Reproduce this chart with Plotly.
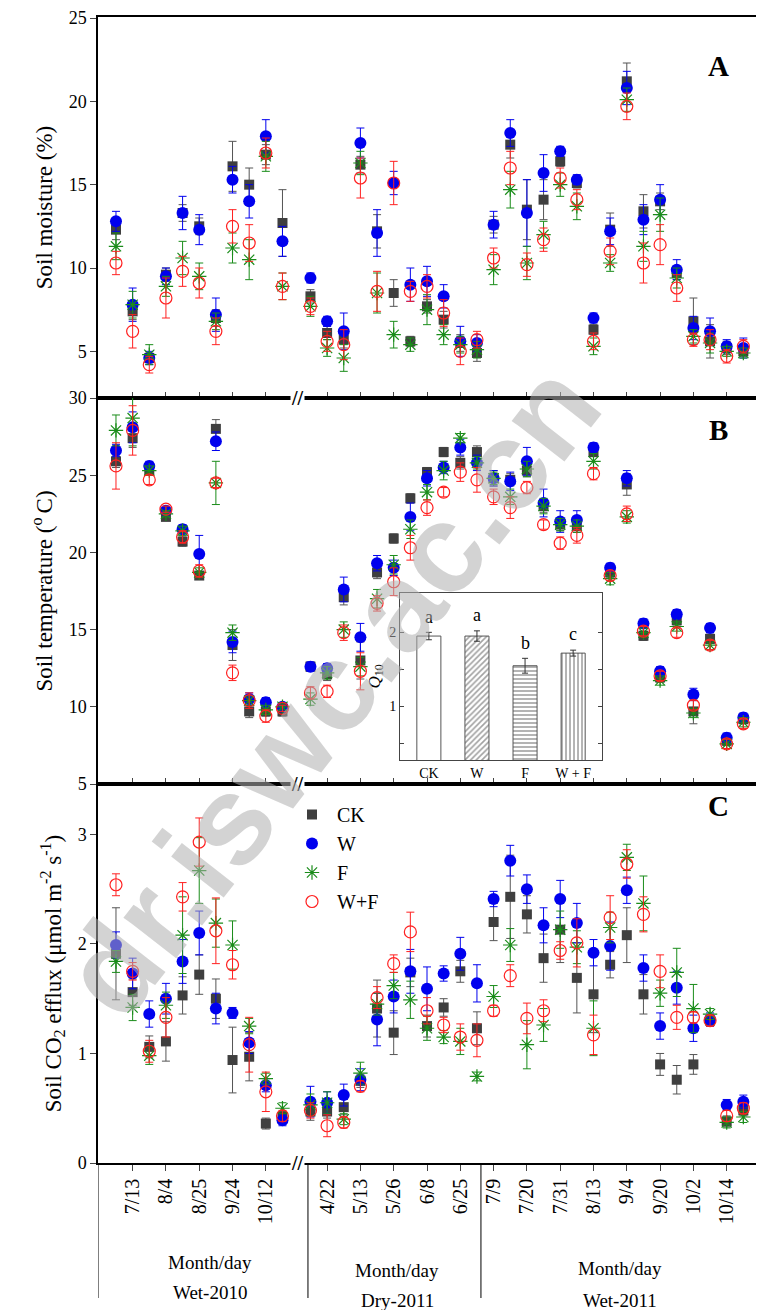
import plotly.graph_objects as go

# sampling dates (only every other one is labelled on the axis)
n_wet10, n_dry11, n_wet11 = 11, 11, 16
tick_idx = [1, 3, 5, 7, 9, 12, 14, 16, 18, 20, 22, 24, 26, 28, 30, 32, 34, 36]
tick_labels = ["7/13", "8/4", "8/25", "9/24", "10/12",
               "4/22", "5/13", "5/26", "6/8", "6/25",
               "7/9", "7/20", "7/31", "8/13", "9/4", "9/20", "10/2", "10/14"]

# x position of each sampling date (gap at the axis break)
xpos = ([i for i in range(n_wet10)] + [11.68 + i for i in range(n_dry11)]
        + [22.68 + i for i in range(n_wet11)])

# ---- soil moisture (%)
sm_ck = [12.3, 7.4, 4.6, 9.6, 13.3, 12.5, 7.0, 16.1, 15.0, 16.8, 12.7,
         8.3, 6.1, 5.7, 16.2, 12.2, 8.5, 5.6, 7.7, 6.9, 5.5, 4.9,
         12.6, 17.4, 13.5, 14.1, 16.4, 15.1, 6.3, 12.3, 21.2, 13.4, 14.0, 9.7, 6.8, 5.6, 5.2, 5.0]
sm_w = [12.8, 7.8, 4.6, 9.5, 13.3, 12.3, 7.2, 15.3, 14.0, 17.9, 11.6,
        9.4, 6.8, 6.2, 17.5, 12.1, 15.1, 9.0, 9.2, 8.3, 5.6, 5.5,
        12.6, 18.1, 13.3, 15.7, 17.0, 15.3, 7.0, 12.2, 20.8, 12.9, 14.1, 9.9, 6.4, 6.2, 5.3, 5.2]
sm_f = [11.3, 7.8, 4.8, 8.9, 10.6, 9.5, 6.8, 11.2, 10.5, 16.7, 8.9,
        7.7, 5.2, 4.6, 16.3, 8.5, 6.0, 5.4, 7.5, 6.0, 5.4, 5.1,
        9.9, 14.7, 10.3, 12.0, 15.0, 13.7, 5.3, 10.3, 20.1, 11.3, 13.2, 9.4, 5.9, 5.5, 5.0, 4.9]
sm_wf = [10.3, 6.2, 4.2, 8.2, 9.8, 9.1, 6.2, 12.5, 11.5, 16.9, 8.9,
         7.7, 5.6, 5.4, 15.4, 8.6, 15.1, 8.6, 8.9, 7.3, 5.0, 5.7,
         10.6, 16.0, 10.2, 11.7, 15.4, 14.1, 5.6, 11.0, 19.7, 10.3, 11.4, 8.8, 5.7, 5.7, 4.7, 5.3]
sm_ck_e = [0.6, 0.5, 0.3, 0.4, 0.5, 0.5, 0.5, 1.5, 1.0, 0.6, 2.0,
           0.4, 0.4, 0.5, 0.5, 1.0, 0.8, 0.3, 0.4, 0.5, 0.5, 0.5,
           0.5, 0.8, 1.8, 1.2, 0.3, 0.3, 0.3, 1.0, 1.1, 1.0, 0.5, 0.4, 1.4, 1.0, 0.4, 0.3]
sm_w_e = [0.6, 1.0, 0.4, 0.5, 1.0, 0.9, 1.0, 0.8, 1.0, 1.0, 0.9,
          0.3, 0.3, 1.1, 0.9, 1.4, 0.7, 1.0, 0.9, 0.7, 0.9, 0.5,
          0.8, 0.8, 2.0, 1.1, 0.3, 0.3, 0.3, 0.8, 1.0, 0.9, 0.9, 0.6, 0.7, 0.8, 0.4, 0.6]
sm_f_e = [0.8, 0.8, 0.6, 0.6, 1.0, 0.8, 0.5, 0.9, 1.2, 0.9, 0.8,
          0.6, 0.5, 0.8, 0.7, 1.2, 0.8, 0.4, 0.9, 0.6, 0.5, 0.5,
          0.9, 1.1, 1.0, 0.8, 0.7, 0.8, 0.5, 0.5, 0.7, 0.9, 1.0, 0.6, 0.4, 0.6, 0.3, 0.3]
sm_wf_e = [0.7, 1.0, 0.5, 1.2, 0.9, 0.9, 0.8, 1.0, 1.1, 0.9, 0.8,
           0.5, 0.6, 0.9, 1.2, 1.2, 1.3, 0.6, 0.7, 0.8, 0.8, 0.5,
           0.6, 1.0, 0.7, 0.7, 0.6, 0.6, 0.5, 0.8, 0.8, 1.2, 1.2, 0.8, 0.4, 0.6, 0.4, 0.4]

# ---- soil temperature (oC)
st_ck = [25.9, 27.4, 25.3, 22.3, 20.7, 18.5, 28.0, 14.0, 9.7, 9.7, 9.7,
         12.6, 12.1, 17.1, 13.0, 18.7, 20.9, 23.5, 25.2, 26.5, 25.8, 26.5,
         24.8, 24.7, 25.3, 23.0, 21.8, 21.7, 26.5, 18.7, 24.4, 14.6, 11.9, 15.6, 9.7, 14.4, 7.8, 9.2]
st_w = [26.6, 28.1, 25.6, 22.7, 21.5, 19.9, 27.2, 14.2, 10.5, 10.3, 10.0,
        12.6, 12.5, 17.6, 14.5, 19.3, 19.0, 22.3, 24.8, 25.5, 26.8, 25.8,
        24.8, 24.6, 25.9, 23.2, 22.0, 22.1, 26.8, 19.0, 24.8, 15.4, 12.3, 16.0, 10.8, 15.1, 8.0, 9.3]
st_f = [27.9, 28.7, 25.3, 22.5, 21.4, 18.7, 24.5, 14.8, 10.4, 9.8, 10.0,
        10.5, 12.2, 15.0, 12.6, 17.0, 19.2, 21.5, 23.9, 25.3, 27.4, 25.8,
        24.8, 23.6, 25.4, 23.0, 21.8, 21.7, 25.9, 18.3, 22.3, 14.8, 11.7, 15.2, 9.6, 14.0, 7.6, 9.0]
st_wf = [25.6, 27.9, 24.7, 22.8, 21.0, 18.8, 24.5, 12.2, 10.4, 9.4, 9.9,
         10.9, 11.0, 14.8, 12.3, 16.7, 18.1, 20.3, 22.9, 23.9, 25.2, 24.7,
         23.6, 22.9, 24.2, 21.8, 20.6, 21.1, 25.1, 18.5, 22.5, 14.9, 12.0, 14.8, 10.1, 14.0, 7.6, 8.9]
st_ck_e = [0.4, 0.6, 0.3, 0.2, 0.3, 0.2, 0.6, 1.0, 0.4, 0.3, 0.3,
           0.3, 0.4, 0.5, 1.2, 0.4, 0.3, 0.3, 0.3, 0.3, 0.4, 0.4,
           0.5, 0.4, 0.4, 0.4, 0.4, 0.4, 0.3, 0.3, 0.7, 0.3, 0.3, 0.3, 0.8, 0.3, 0.3, 0.3]
st_w_e = [0.4, 1.0, 0.3, 0.2, 0.3, 1.2, 0.6, 0.7, 0.4, 0.3, 0.2,
          0.3, 0.3, 0.8, 0.9, 0.5, 0.5, 0.9, 0.5, 0.4, 0.5, 0.5,
          0.5, 0.6, 0.9, 0.9, 0.7, 0.6, 0.3, 0.3, 0.5, 0.3, 0.3, 0.3, 0.4, 0.3, 0.3, 0.3]
st_f_e = [1.0, 1.8, 0.3, 0.2, 0.3, 0.3, 1.4, 0.5, 0.3, 0.3, 0.2,
          0.4, 0.4, 0.5, 0.6, 0.6, 0.6, 0.6, 0.5, 0.6, 0.3, 0.4,
          0.4, 0.5, 0.5, 0.5, 0.4, 0.4, 0.5, 0.4, 0.4, 0.3, 0.3, 0.3, 0.3, 0.3, 0.3, 0.3]
st_wf_e = [1.5, 1.6, 0.3, 0.2, 0.4, 0.4, 0.3, 0.5, 0.5, 0.4, 0.2,
           0.4, 0.4, 0.5, 1.2, 0.5, 0.9, 0.8, 0.5, 0.3, 0.6, 0.8,
           0.5, 0.7, 0.4, 0.3, 0.4, 0.5, 0.4, 0.3, 0.5, 0.3, 0.3, 0.3, 0.3, 0.3, 0.3, 0.3]

# ---- soil CO2 efflux
co2_ck = [1.91, 1.56, 1.06, 1.11, 1.53, 1.72, 1.50, 0.94, 0.97, 0.36, 0.42,
          0.47, 0.47, 0.51, 0.75, 1.41, 1.19, 1.74, 1.25, 1.42, 1.75, 1.23,
          2.20, 2.43, 2.27, 1.87, 2.13, 1.69, 1.54, 1.81, 2.08, 1.54, 0.90, 0.76, 0.90, 1.30, 0.38, 0.48]
co2_w = [1.99, 1.73, 1.36, 1.50, 1.84, 2.10, 1.41, 1.37, 1.10, 0.71, 0.39,
         0.56, 0.55, 0.62, 0.76, 1.31, 1.52, 1.75, 1.59, 1.73, 1.91, 1.64,
         2.41, 2.76, 2.50, 2.17, 2.41, 2.19, 1.92, 1.98, 2.49, 1.78, 1.25, 1.60, 1.23, 1.31, 0.53, 0.56]
co2_f = [1.84, 1.42, 0.98, 1.44, 2.08, 2.67, 2.19, 1.99, 1.25, 0.77, 0.50,
         0.53, 0.55, 0.40, 0.82, 1.45, 1.62, 1.49, 1.23, 1.15, 1.11, 0.79,
         1.52, 1.99, 1.08, 1.26, 2.13, 1.97, 1.23, 2.15, 2.79, 2.37, 1.55, 1.74, 1.41, 1.36, 0.37, 0.42]
co2_wf = [2.54, 1.75, 1.02, 1.33, 2.43, 2.93, 2.12, 1.81, 1.08, 0.65, 0.43,
          0.48, 0.34, 0.37, 0.70, 1.51, 1.82, 2.11, 1.39, 1.26, 1.15, 1.12,
          1.39, 1.71, 1.32, 1.39, 1.94, 2.01, 1.17, 2.24, 2.73, 2.27, 1.75, 1.33, 1.33, 1.30, 0.43, 0.50]
co2_ck_e = [0.42, 0.12, 0.10, 0.18, 0.17, 0.18, 0.18, 0.30, 0.22, 0.05, 0.05,
            0.08, 0.06, 0.07, 0.06, 0.26, 0.20, 0.13, 0.10, 0.08, 0.10, 0.15,
            0.17, 0.38, 0.17, 0.22, 0.30, 0.32, 0.35, 0.12, 0.25, 0.18, 0.10, 0.13, 0.09, 0.05, 0.05, 0.05]
co2_w_e = [0.12, 0.14, 0.12, 0.14, 0.20, 0.20, 0.14, 0.05, 0.10, 0.06, 0.05,
           0.14, 0.10, 0.10, 0.10, 0.24, 0.15, 0.20, 0.20, 0.07, 0.15, 0.17,
           0.07, 0.14, 0.13, 0.16, 0.17, 0.18, 0.12, 0.22, 0.12, 0.12, 0.12, 0.15, 0.12, 0.06, 0.05, 0.06]
co2_f_e = [0.10, 0.12, 0.08, 0.12, 0.35, 0.30, 0.22, 0.22, 0.07, 0.05, 0.05,
           0.10, 0.10, 0.05, 0.10, 0.10, 0.12, 0.17, 0.11, 0.06, 0.12, 0.04,
           0.10, 0.15, 0.22, 0.15, 0.17, 0.15, 0.25, 0.14, 0.12, 0.25, 0.12, 0.22, 0.22, 0.05, 0.05, 0.05]
co2_wf_e = [0.10, 0.08, 0.10, 0.18, 0.13, 0.22, 0.30, 0.13, 0.25, 0.18, 0.05,
            0.07, 0.10, 0.05, 0.05, 0.10, 0.08, 0.18, 0.12, 0.07, 0.12, 0.15,
            0.05, 0.10, 0.14, 0.10, 0.08, 0.22, 0.18, 0.20, 0.13, 0.16, 0.15, 0.11, 0.05, 0.05, 0.05, 0.05]

# ---- inset Q10
q10_cats = ["CK", "W", "F", "W + F"]
q10_vals = [1.95, 1.95, 1.55, 1.72]
q10_err = [0.05, 0.07, 0.10, 0.04]
q10_letters = ["a", "a", "b", "c"]

FONT = "Liberation Serif, Times New Roman, serif"
OFF = 8  # page body margin
L, R, T, B = 98 - OFF, 764 - 762 + OFF, 17 - OFF, 1310 - 1163 + OFF
PW, PH = 764 - L - R, 1310 - T - B


def px(xpix):  # screen column -> paper x
    return (xpix - OFF - L) / PW


def py(ypix):  # screen row -> paper y
    return (1310 - B - (ypix - OFF)) / PH


def note(x, y, text, size, xref="paper", **kw):
    fig.add_annotation(x=x, y=y, xref=xref, yref="paper", text=text, showarrow=False,
                       xanchor="center", yanchor="middle",
                       font=dict(family=kw.pop("family", FONT), size=size, color=kw.pop("color", "black")), **kw)


series = [
    ("CK", dict(symbol="square", color="#3f3f3f", size=10), "#555555"),
    ("W", dict(symbol="circle", color="#0000ee", size=12), "#0000ee"),
    ("F", dict(symbol="asterisk-open", color="#1a8c1a", size=12, line=dict(width=1.2, color="#1a8c1a")), "#1a8c1a"),
    ("W+F", dict(symbol="circle-open", color="#ff2020", size=12, line=dict(width=1.2, color="#ff2020")), "#ff2020"),
]
panels = [
    ("x", "y", [sm_ck, sm_w, sm_f, sm_wf], [sm_ck_e, sm_w_e, sm_f_e, sm_wf_e]),
    ("x2", "y2", [st_ck, st_w, st_f, st_wf], [st_ck_e, st_w_e, st_f_e, st_wf_e]),
    ("x3", "y3", [co2_ck, co2_w, co2_f, co2_wf], [co2_ck_e, co2_w_e, co2_f_e, co2_wf_e]),
]

fig = go.Figure()
for xa, ya, vals, errs in panels:
    for (name, mk, ecol), v, e in zip(series, vals, errs):
        fig.add_trace(go.Scatter(
            x=xpos, y=v, mode="markers", name=name, marker=mk,
            error_y=dict(type="data", array=e, color=ecol, thickness=1, width=4),
            xaxis=xa, yaxis=ya, showlegend=(xa == "x3"),
        ))

fig.add_trace(go.Bar(
    x=q10_cats, y=q10_vals, xaxis="x4", yaxis="y4", showlegend=False,
    marker=dict(color="white", line=dict(color="#555555", width=1),
                pattern=dict(shape=["", "/", "-", "|"], fgcolor="#444444", size=4, solidity=0.4)),
    error_y=dict(type="data", array=q10_err, color="#333333", thickness=1, width=3),
    width=0.5,
))
for c, v, e, t in zip(q10_cats, q10_vals, q10_err, q10_letters):
    fig.add_annotation(x=c, y=v + e + 0.05, xref="x4", yref="y4", text=t, showarrow=False,
                       yanchor="bottom", font=dict(family=FONT, size=18, color="black"))

xr = [-1.08, 38.8]
common_x = dict(range=xr, showline=True, linecolor="black", linewidth=1.5, mirror=True, automargin=False,
                showgrid=False, zeroline=False, tickvals=[xpos[i] for i in tick_idx], domain=[0, 1])
common_y = dict(showline=True, linecolor="black", linewidth=1.5, mirror=True, showgrid=False, automargin=False,
                zeroline=False, ticks="outside", ticklen=6, tickfont=dict(family=FONT, size=18, color="black"),
                title_font=dict(family=FONT, size=23, color="black"), title_standoff=10)

fig.update_layout(
    width=764, height=1310, margin=dict(l=L, r=R, t=T, b=B),
    paper_bgcolor="white", plot_bgcolor="white",
    font=dict(family=FONT, color="black"),
    xaxis=dict(common_x, anchor="y", showticklabels=False, ticks="inside", ticklen=6),
    xaxis2=dict(common_x, anchor="y2", showticklabels=False, ticks="inside", ticklen=6),
    xaxis3=dict(common_x, anchor="y3", ticks="outside", ticklen=6, ticktext=tick_labels,
                tickangle=-90, tickfont=dict(family=FONT, size=20, color="black")),
    yaxis=dict(common_y, domain=[py(398), py(17)], range=[2.2, 25.06], tickvals=[5, 10, 15, 20, 25],
               title_text="Soil moisture (%)"),
    yaxis2=dict(common_y, domain=[py(784), py(398)], range=[5, 30], tickvals=[5, 10, 15, 20, 25, 30],
                title_text="Soil temperature (<sup>o </sup>C)"),
    yaxis3=dict(common_y, domain=[py(1163), py(784)], range=[0, 3.46], tickvals=[0, 1, 2, 3],
                title_text="Soil CO<sub>2</sub> efflux (μmol m<sup>-2</sup> s<sup>-1</sup>)"),
    xaxis4=dict(domain=[px(400), px(602)], anchor="y4", showline=True, linecolor="#444444", automargin=False,
                mirror=True, ticks="", tickfont=dict(family=FONT, size=14, color="black"), range=[-0.6, 3.6]),
    yaxis4=dict(domain=[py(760), py(593)], anchor="x4", range=[0.28, 2.53], showline=True, automargin=False,
                linecolor="#444444", mirror="ticks", ticks="inside", ticklen=4,
                tickvals=[0.5, 1, 1.5, 2], ticktext=["", "1", "", "2"], showgrid=False, zeroline=False,
                tickfont=dict(family=FONT, size=14, color="black"),
                title=dict(text="<i>Q</i><sub>10</sub>", font=dict(family=FONT, size=17), standoff=4)),
    bargap=0.5,
    legend=dict(x=px(287), y=py(795), xanchor="left", yanchor="top", bgcolor="rgba(0,0,0,0)",
                font=dict(family=FONT, size=20, color="black"), itemwidth=40, tracegroupgap=0),
)

# panel letters
for letter, ypix in [("A", 66), ("B", 430), ("C", 806)]:
    note(px(718), py(ypix), "<b>%s</b>" % letter, 29)

# axis break marks
for ypix in [398, 784, 1163]:
    note(10.9, py(ypix), "<b>//</b>", 20, xref="x3", bgcolor="white", borderpad=0)

# season separators under the axis
for xv in [xr[0], 11.53, 21.92, xr[1]]:
    fig.add_shape(type="line", x0=xv, x1=xv, xref="x3", yref="paper", y0=py(1163), y1=py(1298),
                  line=dict(color="black", width=1))
for xpix, lab, y1, y2 in [(210, "Wet-2010", 1262, 1292), (397, "Dry-2011", 1270, 1300),
                          (620, "Wet-2011", 1268, 1300)]:
    note(px(xpix), py(y1), "Month/day", 19)
    note(px(xpix), py(y2), lab, 19)

# watermark
note(px(330), py(690), "<b>dr.iswc.ac.cn</b>", 126, textangle=-52,
     family="Liberation Sans", color="rgba(175,175,175,0.55)")

fig.write_html("out.html")
